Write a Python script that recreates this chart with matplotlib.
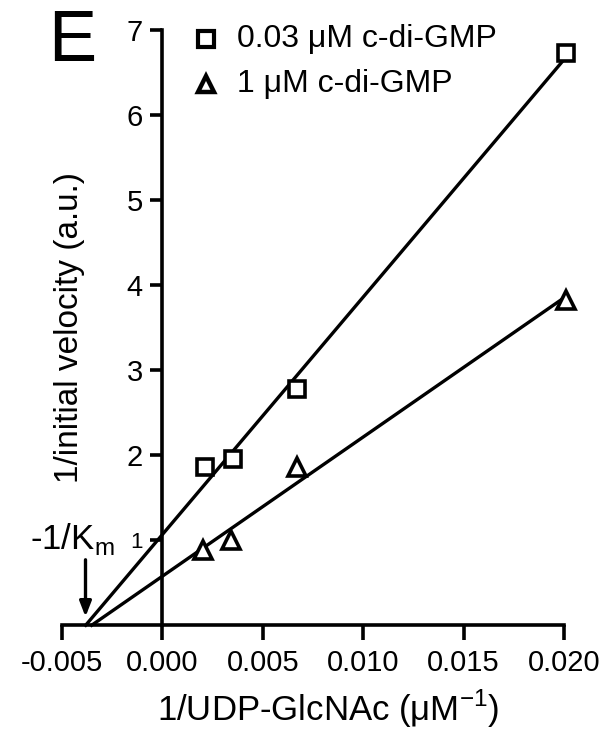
import numpy as np
import matplotlib
matplotlib.use("Agg")
import matplotlib.pyplot as plt

plt.rcParams['font.family'] = ['Liberation Sans', 'DejaVu Sans']

# 1/[UDP-GlcNAc] (uM^-1) and 1/v (a.u.)
x_low = [0.0021, 0.0035, 0.0067, 0.0201]
y_low = [1.86, 1.95, 2.78, 6.73]
x_high = [0.0020, 0.0034, 0.0067, 0.0201]
y_high = [0.89, 1.00, 1.86, 3.83]

label_low = "0.03 \u03bcM c-di-GMP"
label_high = "1 \u03bcM c-di-GMP"

xticks = [-0.005, 0.000, 0.005, 0.010, 0.015, 0.020]
yticks = [1, 2, 3, 4, 5, 6, 7]

fig = plt.figure(figsize=(6.02, 7.33), dpi=100)
ax = fig.add_axes([0.103, 0.147, 0.834, 0.812])

lw = 2.6
for xs, ys in [(x_low, y_low), (x_high, y_high)]:
    k, b = np.polyfit(xs, ys, 1)
    x0 = -b / k
    xx = np.array([x0, max(xs)])
    ax.plot(xx, k * xx + b, color='black', lw=2.4, clip_on=False, zorder=2)

ax.plot(x_low, y_low, linestyle='none', marker='s', ms=12, mfc='white',
        mec='black', mew=2.6, clip_on=False, zorder=3)
ax.plot(x_high, y_high, linestyle='none', marker='^', ms=13, mfc='white',
        mec='black', mew=2.6, clip_on=False, zorder=3)

ax.set_xlim(-0.005, 0.020)
ax.set_ylim(0, 7)

ax.spines['right'].set_visible(False)
ax.spines['top'].set_visible(False)
ax.spines['left'].set_position(('data', 0))
ax.spines['left'].set_linewidth(lw)
ax.spines['bottom'].set_linewidth(lw)

ax.set_xticks(xticks)
ax.set_xticklabels(["%.3f" % t for t in xticks], fontsize=21)
ax.set_yticks(yticks)
ax.set_yticklabels([str(t) for t in yticks], fontsize=21)
ax.get_yticklabels()[0].set_fontsize(16)
ax.tick_params(axis='x', length=11, width=lw, pad=6)
ax.tick_params(axis='y', length=9, width=lw, pad=5)

ax.set_xlabel("1/UDP-GlcNAc (\u03bcM$^{\\mathregular{-1}}$)", fontsize=25)
ax.xaxis.set_label_coords(0.53, -0.105)
ax.set_ylabel("1/initial velocity (a.u.)", fontsize=24)
ax.yaxis.set_label_coords(0.045, 0.5)

# legend drawn by hand
ax.plot([0.00215], [6.9], linestyle='none', marker='s', ms=11, mfc='white',
        mec='black', mew=3.0, clip_on=False)
ax.plot([0.00215], [6.37], linestyle='none', marker='^', ms=11, mfc='white',
        mec='black', mew=3.2, clip_on=False)
ax.text(0.0037, 6.9, label_low, fontsize=23, va='center', ha='left')
ax.text(0.0037, 6.37, label_high, fontsize=23, va='center', ha='left')

# panel letter
fig.text(0.08, 0.917, "E", fontsize=52, ha='left', va='baseline')

# -1/Km annotation
ax.text(-0.0066, 0.9, "-1/K$_\\mathregular{m}$", fontsize=25, ha='left',
        va='baseline', clip_on=False)
ax.annotate("", xy=(-0.00383, 0.1), xytext=(-0.00383, 0.77),
            arrowprops=dict(arrowstyle='-|>,head_width=0.35,head_length=0.9',
                            color='black', lw=2.4, shrinkA=0, shrinkB=0))

fig.savefig("out.png", dpi=100)
